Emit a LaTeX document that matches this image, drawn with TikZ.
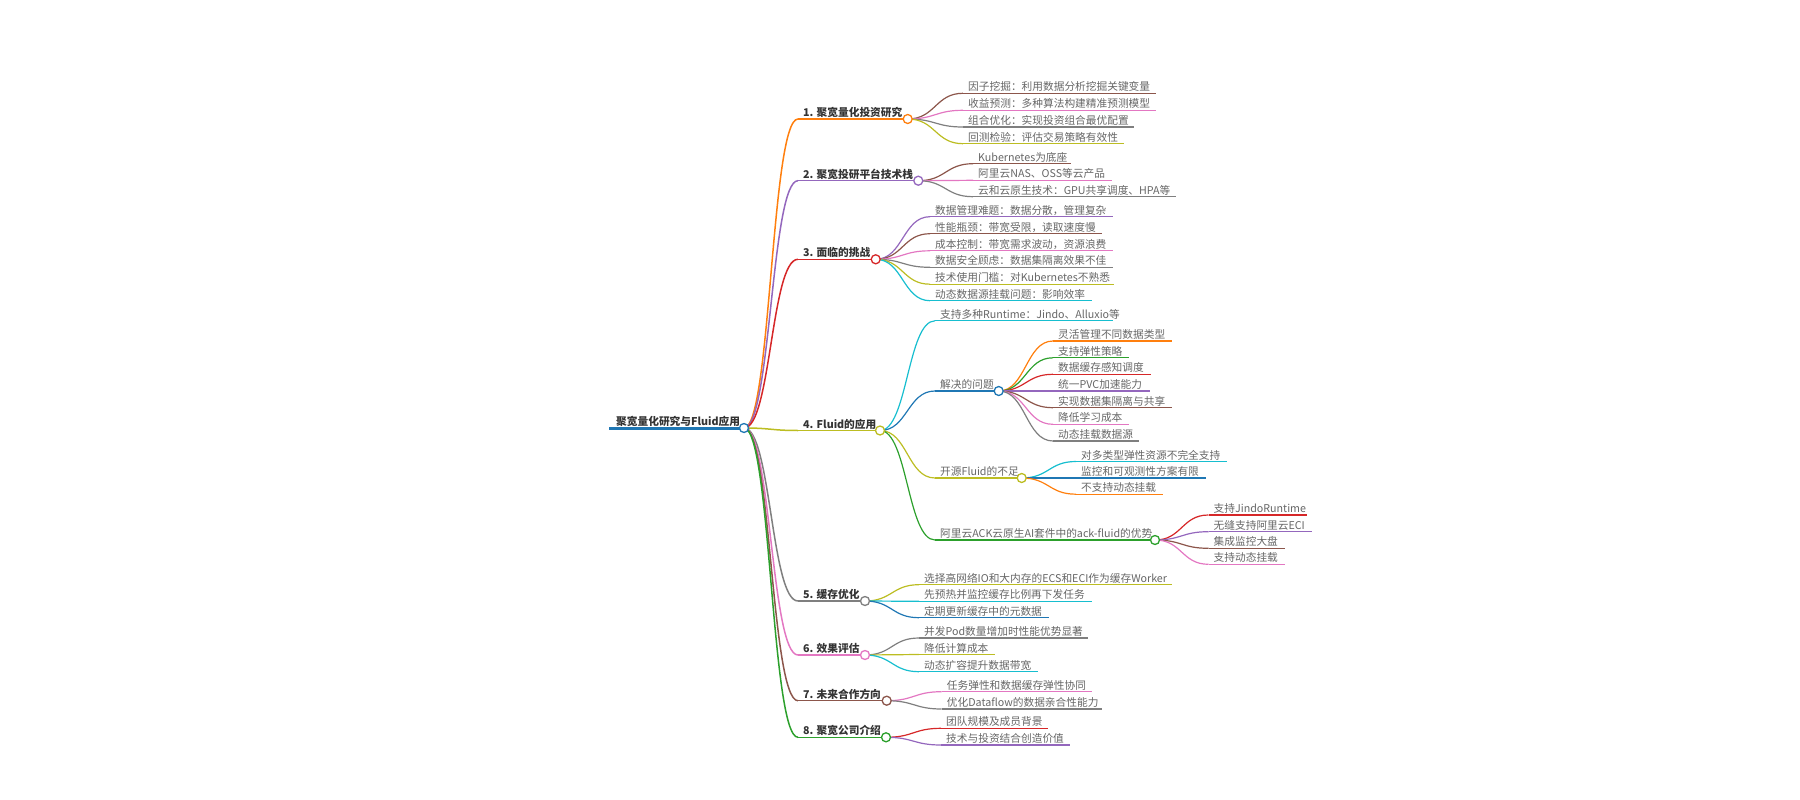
\documentclass[tikz,border=0pt]{standalone}
\usepackage{fontspec}
\setmainfont{Noto Sans CJK SC}
\usetikzlibrary{calc}
\definecolor{mmblue}{HTML}{1F77B4}
\definecolor{mmorange}{HTML}{FF7F0E}
\definecolor{mmgreen}{HTML}{2CA02C}
\definecolor{mmred}{HTML}{D62728}
\definecolor{mmpurple}{HTML}{9467BD}
\definecolor{mmbrown}{HTML}{8C564B}
\definecolor{mmpink}{HTML}{E377C2}
\definecolor{mmgrey}{HTML}{7F7F7F}
\definecolor{mmolive}{HTML}{BCBD22}
\definecolor{mmcyan}{HTML}{17BECF}
\definecolor{txtdark}{HTML}{333333}
\definecolor{txtgrey}{HTML}{666666}
\tikzset{
  ltxt/.style={anchor=base west, inner sep=0pt, font=\fontsize{10.7}{12}\selectfont, text=txtgrey},
  ttxt/.style={anchor=base west, inner sep=0pt, font=\fontsize{10.7}{12}\selectfont\bfseries, text=txtdark},
  lline/.style={line width=1.2pt},
  tline/.style={line width=1.5pt},
  dot/.style={circle, fill=white, line width=1.3pt, minimum size=9pt, inner sep=0pt},
}
\newcommand\mmlink[4]{\draw[#1,#2] let \p1=(#3), \p2=(#4) in (\p1) .. controls ({0.5*\x1+0.5*\x2},\y1) and ({0.5*\x1+0.5*\x2},\y2) .. (\p2);}
\newcommand\mmnode[9]{%
  \coordinate (#1L) at (#6,#7);
  \coordinate (#1R) at (#8,#7);
  \node[#5] (#1) at (#6+5,#7-2.5) {#9};
  \draw[#3,#4] (#1L) -- (#1R);
  \mmlink{#3}{#4}{#2R}{#1L}%
}
\begin{document}
\begin{tikzpicture}[x=1pt,y=-1pt]
\useasboundingbox (0,0) rectangle (1800,800);
% root
\coordinate (rootL) at (609,428);
\coordinate (rootR) at (744,428);
\node[ttxt] (root) at (616,425.5) {聚宽量化研究与Fluid应用};
\draw[mmblue, line width=3pt] (rootL) -- (rootR);
% level 1
\mmnode{ta}{root}{mmorange}{tline}{ttxt}{798}{119}{907.7}{1. 聚宽量化投资研究}
\mmnode{tb}{root}{mmpurple}{tline}{ttxt}{798}{180.7}{918.3}{2. 聚宽投研平台技术栈}
\mmnode{tc}{root}{mmred}{tline}{ttxt}{798}{259.3}{875.7}{3. 面临的挑战}
\mmnode{td}{root}{mmolive}{tline}{ttxt}{798}{430.5}{880}{4. Fluid的应用}
\mmnode{te}{root}{mmgrey}{tline}{ttxt}{798}{601}{865}{5. 缓存优化}
\mmnode{tf}{root}{mmpink}{tline}{ttxt}{798}{655}{865}{6. 效果评估}
\mmnode{tg}{root}{mmbrown}{tline}{ttxt}{798}{700.7}{886.7}{7. 未来合作方向}
\mmnode{th}{root}{mmgreen}{tline}{ttxt}{798}{737.3}{886}{8. 聚宽公司介绍}
% children of 1
\mmnode{aa}{ta}{mmbrown}{lline}{ltxt}{963}{93.3}{1155.7}{因子挖掘：利用数据分析挖掘关键变量}
\mmnode{ab}{ta}{mmpink}{lline}{ltxt}{963}{110.3}{1155.7}{收益预测：多种算法构建精准预测模型}
\mmnode{ac}{ta}{mmgrey}{lline}{ltxt}{963}{127}{1134}{组合优化：实现投资组合最优配置}
\mmnode{ad}{ta}{mmolive}{lline}{ltxt}{963}{143.7}{1124}{回测检验：评估交易策略有效性}
% children of 2
\mmnode{ba}{tb}{mmbrown}{lline}{ltxt}{973}{163.7}{1070.7}{Kubernetes为底座}
\mmnode{bb}{tb}{mmpink}{lline}{ltxt}{973}{180.3}{1112}{阿里云NAS、OSS等云产品}
\mmnode{bc}{tb}{mmgrey}{lline}{ltxt}{973}{196.7}{1176}{云和云原生技术：GPU共享调度、HPA等}
% children of 3
\mmnode{ca}{tc}{mmpurple}{lline}{ltxt}{930}{216.7}{1113}{数据管理难题：数据分散，管理复杂}
\mmnode{cb}{tc}{mmbrown}{lline}{ltxt}{930}{233.7}{1102}{性能瓶颈：带宽受限，读取速度慢}
\mmnode{cc}{tc}{mmpink}{lline}{ltxt}{930}{250.8}{1113}{成本控制：带宽需求波动，资源浪费}
\mmnode{cd}{tc}{mmgrey}{lline}{ltxt}{930}{267.3}{1113}{数据安全顾虑：数据集隔离效果不佳}
\mmnode{ce}{tc}{mmolive}{lline}{ltxt}{930}{284.2}{1114}{技术使用门槛：对Kubernetes不熟悉}
\mmnode{cf}{tc}{mmcyan}{lline}{ltxt}{930}{300.7}{1091.7}{动态数据源挂载问题：影响效率}
% children of 4
\mmnode{da}{td}{mmcyan}{lline}{ltxt}{935}{320.8}{1112.7}{支持多种Runtime：Jindo、Alluxio等}
\mmnode{q}{td}{mmblue}{lline}{ltxt}{935}{391}{998.7}{解决的问题}
\mmnode{fl}{td}{mmolive}{lline}{ltxt}{935}{478}{1021.7}{开源Fluid的不足}
\mmnode{k}{td}{mmgreen}{lline}{ltxt}{935}{540}{1155}{阿里云ACK云原生AI套件中的ack-fluid的优势}
% children of 解决的问题
\mmnode{qa}{q}{mmorange}{lline}{ltxt}{1053}{341}{1171.7}{灵活管理不同数据类型}
\mmnode{qb}{q}{mmgreen}{lline}{ltxt}{1053}{357.8}{1129}{支持弹性策略}
\mmnode{qc}{q}{mmred}{lline}{ltxt}{1053}{374.3}{1150.7}{数据缓存感知调度}
\mmnode{qd}{q}{mmpurple}{lline}{ltxt}{1053}{391}{1150}{统一PVC加速能力}
\mmnode{qe}{q}{mmbrown}{lline}{ltxt}{1053}{407.7}{1171.7}{实现数据集隔离与共享}
\mmnode{qf}{q}{mmpink}{lline}{ltxt}{1053}{424.3}{1129}{降低学习成本}
\mmnode{qg}{q}{mmgrey}{lline}{ltxt}{1053}{441}{1139.3}{动态挂载数据源}
% children of 开源Fluid的不足
\mmnode{fa}{fl}{mmcyan}{lline}{ltxt}{1076}{461.5}{1227}{对多类型弹性资源不完全支持}
\mmnode{fb}{fl}{mmblue}{lline}{ltxt}{1076}{478}{1205.7}{监控和可观测性方案有限}
\mmnode{fc}{fl}{mmorange}{lline}{ltxt}{1076}{494.2}{1163}{不支持动态挂载}
% children of ack-fluid
\mmnode{ka}{k}{mmred}{lline}{ltxt}{1208.5}{515}{1307}{支持JindoRuntime}
\mmnode{kb}{k}{mmpurple}{lline}{ltxt}{1208.5}{531.7}{1311.7}{无缝支持阿里云ECI}
\mmnode{kc}{k}{mmbrown}{lline}{ltxt}{1208.5}{548.3}{1285}{集成监控大盘}
\mmnode{kd}{k}{mmpink}{lline}{ltxt}{1208.5}{564.3}{1285}{支持动态挂载}
% children of 5
\mmnode{ea}{te}{mmolive}{lline}{ltxt}{919}{584.7}{1172.3}{选择高网络IO和大内存的ECS和ECI作为缓存Worker}
\mmnode{eb}{te}{mmcyan}{lline}{ltxt}{919}{601.3}{1091.7}{先预热并监控缓存比例再下发任务}
\mmnode{ec}{te}{mmblue}{lline}{ltxt}{919}{617.7}{1049.3}{定期更新缓存中的元数据}
% children of 6
\mmnode{ga}{tf}{mmgrey}{lline}{ltxt}{919}{638}{1088.3}{并发Pod数量增加时性能优势显著}
\mmnode{gb}{tf}{mmolive}{lline}{ltxt}{919}{654.5}{995}{降低计算成本}
\mmnode{gc}{tf}{mmcyan}{lline}{ltxt}{919}{671.7}{1037.7}{动态扩容提升数据带宽}
% children of 7
\mmnode{ha}{tg}{mmpink}{lline}{ltxt}{941.7}{691.7}{1091.7}{任务弹性和数据缓存弹性协同}
\mmnode{hb}{tg}{mmgrey}{lline}{ltxt}{941.7}{709}{1101.7}{优化Dataflow的数据亲合性能力}
% children of 8
\mmnode{ia}{th}{mmred}{lline}{ltxt}{941}{728.3}{1048.3}{团队规模及成员背景}
\mmnode{ib}{th}{mmpurple}{lline}{ltxt}{941}{745}{1070}{技术与投资结合创造价值}
% circles
\foreach \n/\c in {root/mmblue, ta/mmorange, tb/mmpurple, tc/mmred, td/mmolive, te/mmgrey, tf/mmpink, tg/mmbrown, th/mmgreen, q/mmblue, fl/mmolive, k/mmgreen}
  \node[dot, draw=\c] (\n C) at (\n R) {};
\end{tikzpicture}
\end{document}
